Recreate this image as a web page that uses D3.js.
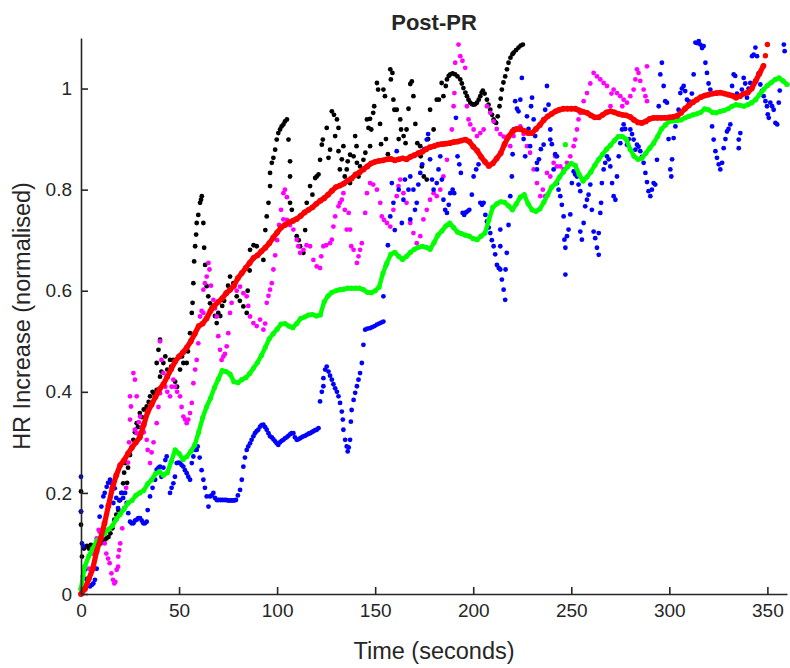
<!DOCTYPE html>
<html><head><meta charset="utf-8">
<script src="https://cdn.jsdelivr.net/npm/d3@7"></script>
<style>body{margin:0;background:#fff}svg text{font-family:"Liberation Sans",Arial,Helvetica,sans-serif;fill:#262626}</style>
</head><body><svg id="c" width="790" height="668"></svg>
<script>
const xTicks=[0,50,100,150,200,250,300,350];
const yTicks=[0,0.2,0.4,0.6,0.8,1];
const titleText="Post-PR", xLabel="Time (seconds)", yLabel="HR Increase (normalised)";

const black=[[0,0.137],[0,0.163],[0,0.203],[0.5,0.074],[1.5,0.09],[3,0.095],[4,0.09],[5,0.097],[6,0.093],[7,0.096],[8,0.09],[9,0.1],[10,0.1],[11,0.104],[12,0.107],[13,0.11],[14,0.113],[15,0.12],[16,0.13],[17,0.147],[18,0.157],[19,0.166],[20,0.186],[21,0.2],[21.5,0.219],[22,0.24],[22.5,0.259],[23.5,0.22],[24,0.25],[25,0.275],[26,0.29],[26.7,0.305],[27.5,0.32],[28.4,0.338],[29,0.33],[30,0.358],[31,0.35],[32,0.365],[33.5,0.371],[34.5,0.38],[35.2,0.391],[36.5,0.4],[37.5,0.395],[38.6,0.404],[38.6,0.457],[39.5,0.483],[40.3,0.503],[40.3,0.43],[41,0.44],[42,0.457],[43,0.47],[44,0.444],[45.4,0.463],[46,0.45],[47.1,0.463],[48,0.42],[49,0.41],[50.5,0.444],[51.5,0.47],[52.2,0.457],[53.9,0.457],[54.5,0.48],[55.6,0.516],[56.5,0.556],[56.9,0.576],[57.3,0.615],[57.7,0.658],[58.2,0.688],[58.7,0.711],[59,0.734],[59.8,0.75],[60.7,0.774],[61.2,0.78],[61.6,0.787],[62.4,0.734],[62.8,0.685],[63.3,0.651],[64.1,0.609],[64.9,0.589],[65.8,0.575],[66.5,0.565],[67.5,0.569],[68.3,0.55],[69.2,0.536],[70,0.556],[71,0.55],[72,0.57],[73,0.58],[74.3,0.595],[75,0.61],[76,0.628],[77.7,0.615],[79.4,0.589],[81,0.58],[82.8,0.569],[84.5,0.556],[85,0.6],[86,0.64],[86.2,0.681],[88,0.69],[89.6,0.688],[91.3,0.675],[93,0.661],[94,0.72],[94.7,0.747],[95.6,0.774],[96.4,0.807],[96.4,0.833],[97.3,0.853],[98.1,0.863],[99,0.879],[99.8,0.899],[100.6,0.912],[101.5,0.919],[102.3,0.925],[103.2,0.929],[104,0.935],[105,0.939],[105.8,0.899],[106.6,0.856],[106.6,0.826],[106.6,0.774],[107.5,0.76],[108.5,0.74],[110,0.708],[111,0.7],[111.7,0.688],[113.4,0.675],[114.3,0.72],[115.1,0.774],[116.8,0.807],[118,0.79],[119.4,0.823],[120.2,0.826],[121.1,0.83],[121.9,0.859],[122.8,0.889],[123.3,0.899],[125.3,0.922],[126.2,0.863],[127,0.879],[127.9,0.955],[129,0.948],[129.6,0.906],[130.5,0.939],[131.3,0.922],[131.3,0.876],[132,0.84],[133,0.86],[133.8,0.886],[134.5,0.826],[135.5,0.84],[136,0.856],[137.2,0.813],[137.2,0.869],[139,0.866],[139.8,0.906],[140.5,0.886],[140.7,0.853],[141.5,0.826],[142.3,0.846],[144,0.859],[145,0.873],[145.8,0.939],[146.6,0.922],[147.4,0.886],[147.4,0.94],[148,0.919],[149,0.952],[149.5,0.965],[150.9,1.011],[151.5,0.998],[152.5,0.93],[153,0.89],[154.2,0.998],[155,0.985],[155.5,0.9],[156.5,0.87],[157.7,1.038],[158,1.018],[158.8,1.031],[159.3,0.978],[159.8,0.958],[161,0.958],[162,0.9],[162.8,0.939],[163.2,0.919],[164.5,0.906],[165.5,0.892],[166,0.919],[167,0.96],[167.9,1.009],[168.7,1.014],[169.5,0.985],[170.5,0.93],[171.5,0.892],[173,0.886],[173.2,0.866],[173.8,0.846],[174.8,0.826],[176.3,0.82],[177,0.9],[178,0.958],[179.8,0.919],[181.4,0.978],[182.5,0.978],[183.9,1.011],[184.8,0.985],[186,1.005],[186.6,1.018],[187.5,1.025],[188.3,1.028],[189.5,1.03],[190.8,1.028],[192,1.024],[193.4,1.018],[194.2,1.01],[195,1.001],[196,0.992],[196.8,0.985],[197.6,0.978],[198.5,0.972],[199.4,0.969],[200.2,0.968],[201,0.969],[201.9,0.972],[202.8,0.978],[203.6,0.985],[204.3,0.992],[204.9,0.996],[205.8,0.99],[207,0.978],[207.8,0.968],[208.7,0.958],[209.6,0.948],[210.4,0.939],[211,0.934],[211.7,0.932],[212.5,0.945],[213.4,0.965],[214,0.98],[214.6,0.998],[215.4,1.012],[216.3,1.024],[217.2,1.038],[218,1.051],[219,1.061],[220,1.068],[220.6,1.071],[221.8,1.076],[223.1,1.081],[224.2,1.085],[225.3,1.087]];

const magenta=[[0,0.01],[2,0.03],[4,0.05],[6,0.08],[8,0.11],[9,0.127],[9.5,0.123],[10.5,0.113],[11.4,0.127],[12.1,0.1],[12.9,0.08],[13.8,0.07],[14.6,0.061],[15.5,0.041],[16.3,0.028],[17,0.021],[17.5,0.024],[18.2,0.048],[18.9,0.054],[19,0.074],[19.5,0.087],[20,0.1],[21,0.13],[22,0.17],[23,0.21],[24,0.26],[24.5,0.3],[25,0.345],[25.5,0.371],[25,0.391],[26.7,0.437],[27.5,0.424],[28.4,0.391],[27.5,0.325],[28.5,0.318],[29.5,0.34],[30.1,0.351],[31,0.33],[32,0.32],[33.5,0.305],[34,0.285],[35.2,0.259],[36,0.28],[37,0.3],[38.6,0.338],[39.5,0.37],[40.3,0.397],[40.3,0.5],[41,0.463],[42,0.437],[43,0.41],[44,0.4],[45.4,0.391],[46.2,0.41],[47.1,0.424],[48,0.41],[49,0.4],[50.5,0.391],[51.3,0.37],[52.2,0.351],[53.1,0.345],[53.9,0.338],[54.7,0.345],[55.6,0.358],[56.5,0.378],[57.3,0.417],[58.2,0.444],[59,0.463],[59.8,0.496],[60.7,0.549],[61.5,0.56],[62.4,0.556],[62.4,0.602],[63.2,0.615],[64.1,0.628],[65,0.655],[65.5,0.642],[66.3,0.61],[67.5,0.582],[68.3,0.565],[69.2,0.549],[70,0.51],[70.9,0.483],[71.7,0.463],[72.6,0.47],[73.4,0.475],[74.3,0.49],[75.1,0.516],[76,0.556],[76.8,0.576],[77.7,0.608],[79.4,0.6],[81.1,0.608],[82.8,0.595],[84.5,0.589],[85.3,0.57],[86.2,0.549],[87.9,0.536],[89.6,0.53],[91.3,0.543],[93,0.523],[93.9,0.535],[94.7,0.576],[95.6,0.59],[96.4,0.602],[97.3,0.615],[98.1,0.642],[99,0.67],[100,0.7],[101,0.73],[102,0.76],[103.2,0.793],[104,0.8],[105,0.785],[103.2,0.741],[105,0.74],[106.6,0.73],[108.3,0.721],[110,0.701],[110.8,0.688],[111.7,0.675],[113.4,0.681],[115,0.69],[116.8,0.688],[118.5,0.661],[120.2,0.648],[121.9,0.645],[122.5,0.668],[123.6,0.688],[125,0.69],[127,0.694],[127.9,0.701],[128.7,0.727],[129.6,0.747],[131.3,0.767],[132,0.774],[133,0.78],[133.8,0.793],[134.5,0.76],[135.5,0.721],[136.5,0.754],[137.2,0.721],[137.8,0.688],[139,0.681],[140.7,0.655],[141.5,0.668],[142.3,0.681],[143.2,0.694],[144.9,0.754],[145.8,0.793],[147.4,0.813],[149,0.81],[150.9,0.8],[152.6,0.774],[153.4,0.747],[154.5,0.74],[156,0.734],[157.7,0.727],[159.3,0.76],[161,0.787],[161.9,0.807],[162.8,0.82],[164.4,0.793],[166,0.774],[167.9,0.734],[169.5,0.714],[171.2,0.694],[173,0.708],[174.6,0.741],[176.3,0.76],[178,0.78],[179.8,0.793],[181.4,0.787],[183.2,0.8],[184.8,0.826],[186.6,0.859],[188.3,0.892],[189.1,0.919],[190,0.965],[190.4,0.991],[190.8,1.051],[192.5,1.087],[193.4,1.064],[194.5,1.055],[195.9,1.041],[196.8,0.965],[197.6,0.939],[198.5,0.929],[200.2,0.919],[201.9,0.906],[203.6,0.912],[205.3,0.919],[207,0.965],[208.7,0.952],[210.4,0.935],[212,0.92],[213.8,0.91],[215.5,0.905],[217,0.899],[218.9,0.886],[220.6,0.906],[222.3,0.919],[224,0.925],[225.7,0.91],[227.4,0.886],[229,0.873],[230.8,0.84],[232.5,0.813],[234.2,0.787],[235.5,0.8],[236.7,0.787],[237.6,0.833],[239.3,0.826],[241,0.853],[241.8,0.866],[242.7,0.846],[244.4,0.846],[246.1,0.84],[247.8,0.853],[249.5,0.866],[251.2,0.886],[252,0.899],[252.9,0.919],[253.7,0.939],[254.6,0.952],[256.3,0.975],[258,0.991],[259.7,1.01],[261.4,1.031],[263.1,1.024],[264.8,1.018],[266.5,1.011],[268.2,1.005],[270,0.965],[270.5,0.99],[271.6,0.998],[273.3,0.991],[275,0.985],[276,0.965],[276.7,0.978],[278.4,0.972],[280.1,0.985],[281.8,0.998],[282.7,1.018],[283.5,1.038],[284.3,1.031],[285.2,1.015],[286.9,0.998],[287.8,0.985],[288.6,0.975],[288.6,1.044]];

const blue=[[0,0.232],[0,0.163],[0.5,0.1],[1.2,0.094],[2,0.048],[3,0.03],[4.6,0.015],[5.5,0.018],[6.3,0.021],[7.1,0.028],[8,0.05],[8.8,0.1],[9.5,0.153],[10.4,0.173],[11.2,0.127],[11.4,0.193],[12.1,0.2],[13.1,0.212],[13.8,0.22],[14.8,0.226],[15.5,0.219],[16.5,0.18],[17.2,0.209],[18,0.19],[18.9,0.17],[19.5,0.185],[20.5,0.2],[21.5,0.19],[22.5,0.2],[23.3,0.18],[24.1,0.16],[25,0.143],[25.8,0.14],[26.7,0.14],[27.5,0.145],[28.4,0.147],[29.2,0.15],[30.1,0.15],[31,0.145],[31.8,0.14],[32.6,0.14],[33.5,0.143],[34,0.166],[35.2,0.193],[36.5,0.21],[37.8,0.226],[38.6,0.246],[39.5,0.25],[40.3,0.252],[41,0.232],[42,0.25],[43,0.265],[43.7,0.272],[45.4,0.2],[46.2,0.21],[47.1,0.219],[47.9,0.232],[48.8,0.259],[49.7,0.26],[50.5,0.259],[51.3,0.255],[52.2,0.252],[53,0.245],[53.9,0.239],[54.7,0.232],[55.6,0.226],[56.5,0.259],[57.3,0.272],[58.2,0.285],[59,0.285],[59.5,0.292],[60.5,0.27],[61.5,0.245],[62.4,0.226],[63.2,0.21],[64.1,0.193],[65,0.173],[65.8,0.193],[66.6,0.195],[67.5,0.2],[68.3,0.19],[69.2,0.186],[70,0.186],[71,0.186],[72,0.186],[73,0.186],[74,0.186],[75,0.185],[76,0.185],[77,0.185],[78,0.185],[79,0.186],[80,0.195],[81.1,0.206],[82,0.226],[82.8,0.252],[83.6,0.27],[84.5,0.285],[85.3,0.292],[86.2,0.298],[87,0.305],[87.9,0.312],[88.7,0.318],[89.5,0.322],[90.4,0.325],[91.3,0.331],[92.1,0.334],[93,0.335],[93.9,0.33],[94.7,0.325],[95.6,0.318],[96.4,0.312],[97.3,0.31],[98.1,0.306],[99,0.302],[99.8,0.298],[100.6,0.295],[101.5,0.3],[102.3,0.303],[103.2,0.305],[104,0.308],[104.9,0.31],[105.7,0.313],[106.6,0.316],[107.4,0.318],[108.3,0.318],[109.1,0.31],[110,0.305],[110.8,0.306],[111.7,0.308],[112.5,0.31],[113.4,0.312],[114.2,0.313],[115.1,0.315],[116,0.317],[116.8,0.318],[117.7,0.32],[118.5,0.322],[119.4,0.324],[120.2,0.325],[121.1,0.328],[121.9,0.381],[122.8,0.4],[123.6,0.411],[123.6,0.427],[124.5,0.444],[125.3,0.45],[126.2,0.44],[127,0.432],[127.9,0.424],[128.7,0.415],[129.6,0.407],[130.5,0.4],[131.3,0.391],[132.1,0.378],[133,0.361],[133.5,0.345],[133.8,0.325],[134.7,0.305],[135.5,0.292],[136,0.282],[136.5,0.29],[137.2,0.305],[137.6,0.341],[138,0.364],[139,0.384],[139.8,0.398],[140.7,0.411],[141.5,0.424],[142.3,0.437],[143.2,0.457],[144,0.493],[144.9,0.523],[146,0.525],[147.4,0.526],[148.5,0.528],[149.7,0.53],[150.9,0.533],[152,0.535],[153.1,0.537],[154.2,0.539],[154.2,0.589],[155.5,0.65],[156.5,0.69],[157.7,0.747],[158.5,0.813],[159.3,0.774],[160,0.72],[161,0.876],[162,0.8],[163.6,0.734],[164.4,0.78],[165.2,0.82],[166,0.86],[167,0.8],[167.9,0.741],[167.9,0.826],[169.5,0.8],[170.3,0.76],[171.2,0.774],[172,0.81],[173,0.833],[174,0.85],[175,0.88],[176.3,0.899],[177,0.91],[178,0.86],[179,0.82],[179.8,0.8],[181.4,0.813],[182.3,0.84],[183.2,0.866],[184,0.82],[184.8,0.78],[185.7,0.76],[186.6,0.754],[187.5,0.77],[188.3,0.793],[189.5,0.8],[190.3,0.793],[191.2,0.942],[192,0.866],[192.9,0.85],[193.7,0.833],[194.6,0.754],[195.4,0.75],[196.3,0.755],[197.1,0.757],[198,0.76],[199.3,0.79],[200.2,0.826],[201.5,0.84],[202.7,0.85],[203.6,0.774],[204.5,0.77],[205.3,0.774],[206.2,0.75],[207,0.737],[207.9,0.725],[208.7,0.714],[209.5,0.7],[210.4,0.688],[211.2,0.672],[212.1,0.651],[213,0.645],[213.8,0.642],[213.8,0.721],[213.8,0.688],[214.6,0.622],[215.5,0.602],[216.3,0.582],[216.5,0.642],[217.1,0.675],[218,0.73],[218.9,0.787],[219.7,0.826],[220.1,0.87],[220.6,0.919],[221.4,0.975],[222.3,0.96],[223.1,0.955],[224,0.978],[224.8,1.021],[225.7,0.9],[226.5,0.866],[227.4,0.945],[228.2,0.92],[229,0.886],[229.5,0.965],[230,0.982],[230.8,0.939],[231.6,0.906],[232.5,0.853],[232.5,0.84],[233.5,0.86],[234.5,0.88],[235.9,0.939],[235.9,0.889],[236.7,0.958],[237.6,1.005],[238.4,0.968],[239.3,0.919],[239.3,0.899],[240.1,0.89],[241,0.84],[241.8,0.87],[242.7,0.866],[242.7,0.813],[243.5,0.8],[244.4,0.787],[245.2,0.77],[246.1,0.747],[246.5,0.701],[247,0.685],[247,0.632],[247.8,0.708],[248.6,0.721],[249.5,0.751],[250.3,0.813],[251.2,0.836],[252,0.83],[252.9,0.826],[253.7,0.81],[254.6,0.797],[254.6,0.717],[255.4,0.701],[256.3,0.734],[257.1,0.767],[258,0.78],[258.8,0.79],[259.7,0.81],[260.5,0.76],[261.4,0.717],[262.2,0.704],[263.1,0.685],[264,0.671],[264,0.714],[264.8,0.754],[265.2,0.774],[265.6,0.813],[266.5,0.84],[267.3,0.853],[268.2,0.866],[269.1,0.86],[269.9,0.846],[270.8,0.813],[271.6,0.787],[272.5,0.78],[273.3,0.826],[274.2,0.866],[275,0.892],[275.9,0.919],[276.7,0.929],[277.5,0.92],[278.4,0.889],[279.3,0.9],[280.1,0.919],[281,0.91],[281.8,0.899],[282.7,0.879],[283.5,0.889],[284.3,0.885],[285.2,0.876],[286,0.865],[286.9,0.853],[287.8,0.833],[288.6,0.815],[289.4,0.797],[290.3,0.787],[291.1,0.8],[292,0.813],[292.8,0.81],[293.7,0.859],[294.6,0.965],[295.4,1.028],[296.2,1.051],[297.1,1.005],[297.9,0.975],[298.8,0.972],[299.6,0.9],[300.5,0.84],[301,0.826],[301.4,0.86],[302.2,0.902],[303.1,0.925],[303.9,0.94],[304.7,0.958],[305.6,0.991],[306.4,1.0],[307.3,1.005],[308.1,0.995],[309,0.978],[309.9,0.975],[310.7,0.972],[311.5,0.99],[312.4,1.028],[313.3,1.091],[314.1,1.09],[315,1.094],[315.8,1.087],[316.7,1.08],[317.5,1.084],[318.4,1.051],[319.2,1.031],[320,1.01],[320.9,0.998],[321.8,0.925],[322.6,0.899],[323.5,0.876],[324.3,0.863],[325.2,0.85],[326,0.84],[326.9,0.853],[327.7,0.882],[328.6,0.9],[329.4,0.915],[330.2,0.92],[331.1,0.929],[332,1.005],[332.8,1.028],[333.6,1.025],[334.5,0.99],[335.4,0.899],[335.4,0.882],[336.2,0.912],[337,0.998],[337.9,1.021],[338.7,1.01],[339.6,0.982],[340.4,1.0],[341.3,1.011],[342.2,1.064],[343,1.067],[343.9,1.081],[344.7,1.064],[345.5,1.03],[346.4,1.008],[347.2,0.995],[348.1,0.985],[349,0.975],[349.8,0.965],[350.2,0.949],[350.7,0.942],[351.5,0.972],[352.4,0.965],[353.2,0.958],[354.1,0.932],[355,0.929],[355.8,0.972],[356.3,0.996],[358.4,1.087],[358.8,1.074]];

const green=[[0,0.01],[1,0.035],[2,0.055],[4,0.075],[6,0.09],[8,0.105],[10,0.112],[12,0.12],[14,0.128],[16,0.135],[18,0.148],[20,0.158],[22,0.168],[24,0.18],[26,0.185],[28,0.195],[30,0.2],[32,0.205],[34,0.218],[36,0.226],[38,0.238],[40,0.242],[42,0.235],[44,0.24],[46,0.262],[48,0.285],[50,0.278],[52,0.266],[54,0.272],[56,0.282],[58,0.295],[60,0.32],[62,0.348],[64,0.37],[66,0.387],[68,0.408],[70,0.425],[72,0.442],[74,0.44],[76,0.435],[78,0.42],[80,0.418],[82,0.424],[84,0.428],[86,0.436],[88,0.447],[90,0.458],[92,0.472],[94,0.488],[96,0.505],[98,0.515],[100,0.524],[102,0.534],[104,0.535],[106,0.53],[108,0.527],[110,0.535],[112,0.545],[114,0.548],[116,0.552],[118,0.553],[120,0.55],[122,0.552],[124,0.578],[126,0.59],[128,0.597],[130,0.6],[132,0.602],[134,0.603],[136,0.605],[138,0.605],[140,0.605],[142,0.605],[144,0.602],[146,0.597],[148,0.596],[150,0.6],[152,0.607],[154,0.635],[156,0.655],[158,0.672],[160,0.676],[162,0.668],[164,0.662],[166,0.668],[168,0.676],[170,0.682],[172,0.686],[174,0.688],[176,0.686],[178,0.682],[180,0.695],[182,0.71],[184,0.718],[186,0.728],[188,0.734],[190,0.725],[192,0.716],[194,0.713],[196,0.71],[198,0.708],[200,0.703],[202,0.701],[204,0.708],[206,0.714],[208,0.74],[210,0.765],[212,0.772],[214,0.776],[216,0.775],[218,0.768],[220,0.76],[222,0.772],[224,0.785],[226,0.79],[228,0.772],[230,0.76],[232,0.757],[234,0.762],[236,0.775],[238,0.79],[240,0.805],[242,0.812],[244,0.825],[246,0.835],[248,0.845],[250,0.852],[252,0.848],[254,0.83],[256,0.817],[258,0.825],[260,0.835],[262,0.848],[264,0.86],[266,0.87],[268,0.88],[270,0.888],[272,0.897],[274,0.905],[276,0.905],[278,0.9],[280,0.88],[282,0.866],[284,0.86],[286,0.862],[288,0.872],[290,0.882],[292,0.892],[294,0.905],[296,0.92],[298,0.928],[300,0.935],[302,0.936],[304,0.937],[306,0.938],[308,0.942],[310,0.945],[312,0.948],[314,0.95],[316,0.953],[318,0.96],[320,0.958],[322,0.953],[324,0.952],[326,0.955],[328,0.957],[330,0.96],[332,0.965],[334,0.968],[336,0.967],[338,0.965],[340,0.968],[342,0.972],[344,0.978],[346,0.988],[348,0.998],[350,1.006],[352,1.012],[354,1.018],[356,1.021],[358,1.015],[360,1.008]];
const greenExtra=[[247,0.889]];

const red=[[0,0],[2,0.01],[4,0.03],[6,0.05],[8,0.085],[10,0.11],[12,0.14],[14,0.175],[16,0.21],[18,0.235],[20,0.255],[22,0.265],[24,0.278],[26,0.29],[28,0.3],[30,0.31],[32,0.335],[34,0.36],[36,0.375],[38,0.39],[40,0.405],[42,0.415],[44,0.43],[46,0.445],[48,0.46],[50,0.47],[52,0.478],[54,0.488],[56,0.5],[58,0.515],[60,0.53],[62,0.535],[64,0.545],[66,0.56],[68,0.57],[70,0.578],[72,0.585],[74,0.595],[76,0.602],[78,0.61],[80,0.625],[82,0.635],[84,0.645],[86,0.655],[88,0.665],[90,0.67],[92,0.678],[94,0.685],[96,0.694],[98,0.705],[100,0.715],[102,0.725],[104,0.73],[106,0.735],[108,0.738],[110,0.742],[112,0.748],[114,0.755],[116,0.76],[118,0.765],[120,0.772],[122,0.778],[124,0.783],[126,0.79],[128,0.798],[130,0.805],[132,0.808],[134,0.812],[136,0.818],[138,0.822],[140,0.83],[142,0.834],[144,0.84],[146,0.846],[148,0.852],[150,0.855],[152,0.857],[154,0.858],[156,0.86],[158,0.861],[160,0.858],[162,0.86],[164,0.862],[166,0.86],[168,0.865],[170,0.868],[172,0.872],[174,0.875],[176,0.88],[178,0.884],[180,0.886],[182,0.889],[184,0.89],[186,0.891],[188,0.892],[190,0.894],[192,0.895],[194,0.897],[196,0.899],[198,0.895],[200,0.885],[202,0.877],[204,0.865],[206,0.855],[208,0.847],[210,0.852],[212,0.862],[214,0.872],[216,0.89],[218,0.905],[220,0.915],[222,0.92],[224,0.92],[226,0.916],[228,0.912],[230,0.912],[232,0.92],[234,0.928],[236,0.938],[238,0.945],[240,0.95],[242,0.955],[244,0.958],[246,0.96],[248,0.96],[250,0.96],[252,0.96],[254,0.957],[256,0.954],[258,0.952],[260,0.947],[262,0.943],[264,0.943],[266,0.948],[268,0.953],[270,0.955],[272,0.953],[274,0.95],[276,0.948],[278,0.947],[280,0.944],[282,0.938],[284,0.933],[286,0.932],[288,0.935],[290,0.94],[292,0.942],[294,0.942],[296,0.942],[298,0.942],[300,0.943],[302,0.944],[304,0.946],[306,0.952],[308,0.96],[310,0.967],[312,0.973],[314,0.978],[316,0.983],[318,0.986],[320,0.988],[322,0.99],[324,0.991],[326,0.992],[328,0.99],[330,0.988],[332,0.986],[334,0.982],[336,0.985],[338,0.99],[340,0.992],[342,1.0],[344,1.015],[346,1.03],[348,1.045]];
const redExtra=[[349,1.065],[350,1.087]];

const svg=d3.select("#c");
const x=d3.scaleLinear().domain([0,360]).range([81,787]);
const y=d3.scaleLinear().domain([0,1.1]).range([594,38]);
const line=d3.line().x(d=>x(d[0])).y(d=>y(d[1])).curve(d3.curveLinear);

function dots(data,color,r){
  svg.append("g").selectAll("circle").data(data).join("circle")
    .attr("cx",d=>x(d[0])).attr("cy",d=>y(d[1])).attr("r",r).attr("fill",color);
}
function dense(data,color,w){
  svg.append("path").datum(data).attr("d",line).attr("fill","none")
    .attr("stroke",color).attr("stroke-width",w).attr("stroke-linejoin","round").attr("stroke-linecap","round");
}

dots(black,"#000000",2.4);
dots(magenta,"#ff00ff",2.4);
dots(blue,"#0000ff",2.4);
dense(green,"#00ff00",4.4);
dots(green,"#00ff00",2.6);
dots(greenExtra,"#00ff00",2.6);
dense(red,"#ff0000",5.2);
dots(red,"#ff0000",2.9);
dots(redExtra,"#ff0000",2.7);

const xa=svg.append("g").attr("transform","translate(0,594)")
  .call(d3.axisBottom(x).tickValues(xTicks).tickSizeInner(-7).tickSizeOuter(0).tickPadding(10).tickFormat(d3.format("d")));
const ya=svg.append("g").attr("transform","translate(81,0)")
  .call(d3.axisLeft(y).tickValues(yTicks).tickSizeInner(-7).tickSizeOuter(0).tickPadding(9).tickFormat(d=>d3.format("~g")(d)));
[xa,ya].forEach(a=>{
  a.selectAll("path,line").attr("stroke","#262626").attr("stroke-width",1.6);
  a.selectAll("text").attr("font-size",19).attr("fill","#262626").style("font-family","'Liberation Sans',Arial,sans-serif");
});

svg.append("text").attr("x",434).attr("y",30).attr("text-anchor","middle")
  .attr("font-size",22).attr("font-weight","bold").attr("fill","#000").text(titleText);
svg.append("text").attr("x",434).attr("y",659).attr("text-anchor","middle")
  .attr("font-size",23.5).text(xLabel);
svg.append("text").attr("transform","translate(30,316) rotate(-90)").attr("text-anchor","middle")
  .attr("font-size",23.5).text(yLabel);
</script></body></html>
